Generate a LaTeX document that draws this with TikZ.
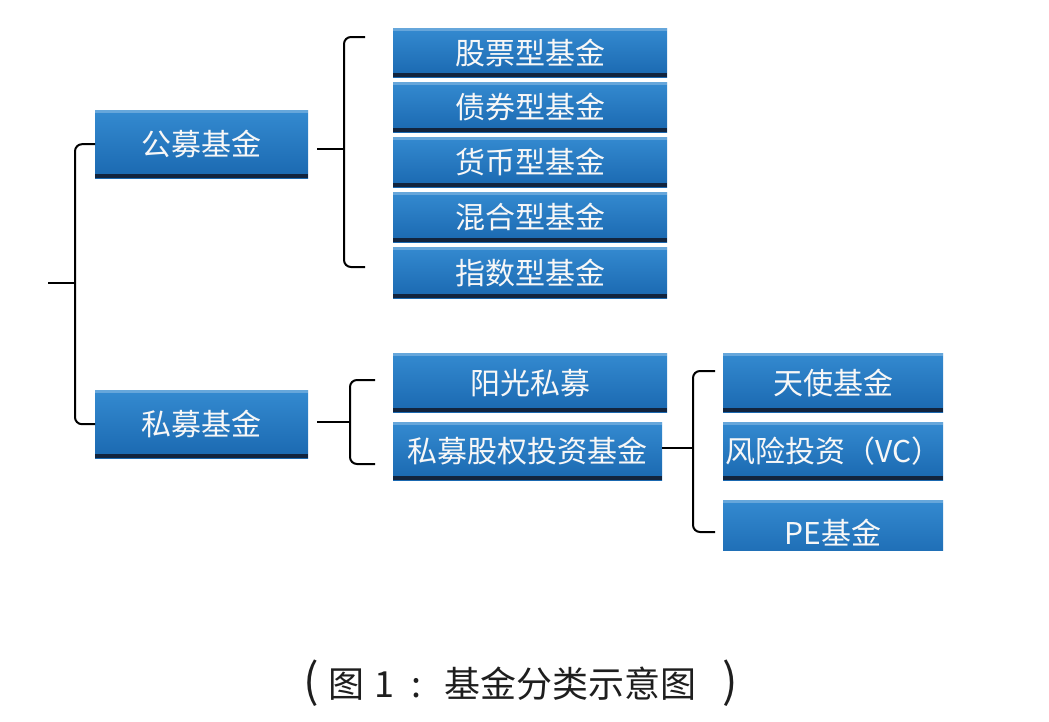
\documentclass[tikz,border=0pt]{standalone}
\usepackage{fontspec}
\setmainfont{Noto Sans CJK SC}
\usetikzlibrary{calc}
\definecolor{boxtop}{RGB}{52,138,208}
\definecolor{boxbot}{RGB}{26,104,176}
\definecolor{boxshadow}{RGB}{18,36,62}
\definecolor{capcol}{RGB}{30,30,30}
\begin{document}
\begin{tikzpicture}[x=1pt,y=-1pt,
  fundbox/.style={draw=none, top color=boxtop, bottom color=boxbot, text=white!94!gray,
    font=\fontsize{30}{30}\selectfont, inner sep=0pt, anchor=north west,
    path picture={
      \fill[boxshadow] (path picture bounding box.south west) rectangle ([yshift=4pt]path picture bounding box.south east);
      \fill[white,opacity=0.25] (path picture bounding box.north west) rectangle ([yshift=-3pt]path picture bounding box.north east);
    }},
  brace/.style={draw=black, line width=2pt, rounded corners=7pt},
  stub/.style={draw=black, line width=2pt},
  captext/.style={font=\fontsize{36}{36}\selectfont, text=capcol, anchor=base, inner sep=0pt},
  capparen/.style={font=\fontsize{46}{46}\selectfont, text=capcol, anchor=base, inner sep=0pt},
]
\useasboundingbox (0,0) rectangle (1049,721);

% parent boxes
\node[fundbox, minimum width=213pt, minimum height=68pt] (gm) at (95,110) {公募基金};
\node[fundbox, minimum width=213pt, minimum height=68pt] (sm) at (95,390) {私募基金};

% public fund types
\node[fundbox, minimum width=274pt, minimum height=49pt] (g1) at (393,28) {股票型基金};
\node[fundbox, minimum width=274pt, minimum height=50pt] (g2) at (393,82) {债券型基金};
\node[fundbox, minimum width=274pt, minimum height=50pt] (g3) at (393,137) {货币型基金};
\node[fundbox, minimum width=274pt, minimum height=50pt] (g4) at (393,192) {混合型基金};
\node[fundbox, minimum width=274pt, minimum height=51pt] (g5) at (393,247) {指数型基金};

% private fund types
\node[fundbox, minimum width=274pt, minimum height=59pt] (p1) at (393,353) {阳光私募};
\node[fundbox, minimum width=269pt, minimum height=58pt] (p2) at (393,422) {私募股权投资基金};

% PE sub types
\node[fundbox, minimum width=220pt, minimum height=59pt] (e1) at (723,353) {天使基金};
\node[fundbox, minimum width=220pt, minimum height=58pt] (e2) at (723,422) {风险投资（VC）};
\begin{scope}
  \clip (700,490) rectangle (960,550);
  \node[fundbox, minimum width=220pt, minimum height=64pt] (e3) at (723,500) {PE基金};
\end{scope}

% root brace
\coordinate (root) at (48,283);
\draw[brace] (gm.west) -| ($(sm.west)+(-20,0)$) -- (sm.west);
\draw[stub] (root) -- (root -| 75,0);

% public brace
\coordinate (gtop) at (365,37);
\coordinate (gbot) at (365,267);
\draw[brace] (gtop) -| (344,267) -- (gbot);
\draw[stub] ($(gm.east)+(9,5)$) -- ($(gm.east)+(36,5)$);

% private brace
\coordinate (ptop) at (375,380);
\coordinate (pbot) at (375,464);
\draw[brace] (ptop) -| (350,464) -- (pbot);
\draw[stub] ($(sm.east)+(9,-2)$) -- ($(sm.east)+(42,-2)$);

% PE brace
\coordinate (etop) at (715,371);
\coordinate (ebot) at (715,532);
\draw[brace] (etop) -| (693,532) -- (ebot);
\draw[stub] ($(p2.east)+(0,-3)$) -- ($(p2.east)+(31,-3)$);

% caption
\node[capparen] (capl) at (311,697) {(};
\node[captext] (capa) at (346,697) {图};
\node[captext] (capb) at (384,697) {1};
\node[captext] (capc) at (416,697) {:};
\node[captext] (capd) at (570,697) {基金分类示意图};
\node[capparen] (capr) at (730,697) {)};
\end{tikzpicture}
\end{document}
